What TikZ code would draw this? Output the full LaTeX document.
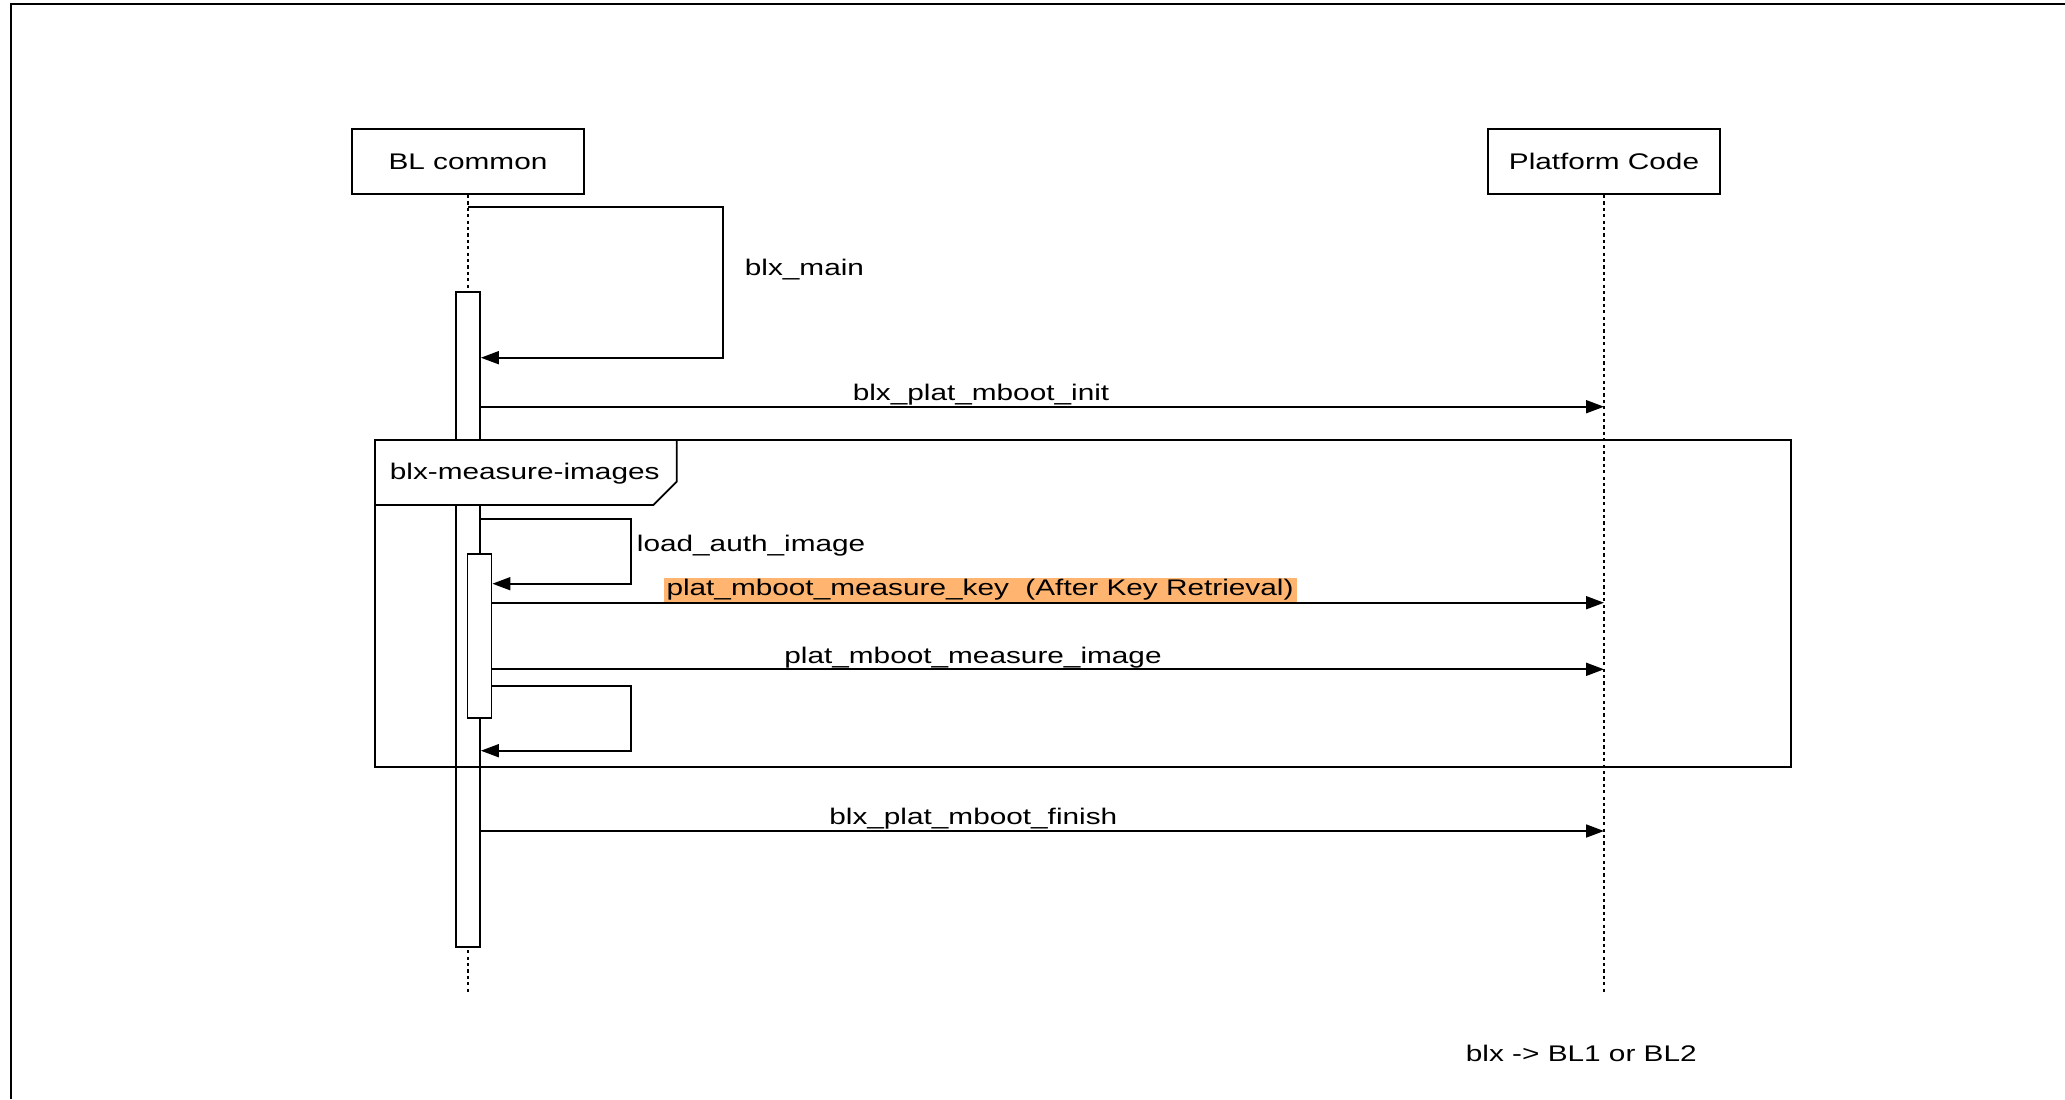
\documentclass[tikz,border=0pt]{standalone}
\usepackage{fontspec}
\setmainfont{Liberation Sans}[FakeStretch=1.317]
\usetikzlibrary{arrows.meta}
\definecolor{keyhl}{HTML}{FFB570}

\begin{document}
\begin{tikzpicture}[
  x=0.5pt, y=-0.5pt,
  font=\fontsize{11.3}{13.6}\selectfont,
  line width=0.9pt,
  actor/.style={draw, fill=white, minimum width=116pt, minimum height=32.5pt, inner sep=0pt},
  bar/.style={draw, fill=white, minimum width=12pt, inner sep=0pt},
  lifeline/.style={line width=1.1pt, dash pattern=on 1.6pt off 1.6pt},
  msg/.style={-{Triangle[length=9pt,width=6.5pt]}},
  lbl/.style={inner sep=0pt},
]
  \useasboundingbox (0,0) rectangle (2065,1099);
  \draw[line width=1.3pt] (11,1099) |- (2065,4);

  \node[actor] (bl) at (468,161.5) {BL common};
  \node[actor] (plat) at (1604,161.5) {Platform Code};
  \coordinate (blend) at (468,993);
  \coordinate (platend) at (1604,994);
  \draw[lifeline] (bl) -- (blend);
  \draw[lifeline] (plat) -- (platend);

  % activation of BL common
  \node[bar, minimum height=327.5pt] (act) at (468,619.5) {};

  % blx_main
  \draw[msg] (bl.south |- 0,206.7) -| (722.7,357.7) -- (act.east |- 0,357.7);
  \node[lbl, anchor=west] (mainlbl) at (744,270) {blx\_main};

  \draw[msg] (act.east |- 0,406.7) -- (platend |- 0,406.7);
  \node[lbl] (initlbl) at (981,394.5) {blx\_plat\_mboot\_init};

  % loop frame
  \draw (375,440) rectangle (1790.7,766.7);
  \draw[fill=white] (375,440) |- (653.3,505) -- (676.7,481.7) -- (676.7,440) -- cycle;
  \node[lbl, anchor=west] (looplbl) at (389,474) {blx-measure-images};

  \node[bar, minimum height=82pt] (inact) at (479.5,636.3) {};

  \draw[msg] (act.east |- 0,518.7) -| (630.7,583.7) -- (inact.east |- 0,583.7);
  \node[lbl, anchor=west] (authlbl) at (636,545.5) {load\_auth\_image};

  \draw[msg] (inact.east |- 0,602.7) -- (platend |- 0,602.7);
  \node[lbl, fill=keyhl, minimum height=12pt, inner xsep=1.5pt] (keylbl) at (980,589.5)
    {plat\_mboot\_measure\_key\ \ (After Key Retrieval)};

  \draw[msg] (inact.east |- 0,669.3) -- (platend |- 0,669.3);
  \node[lbl] (imglbl) at (973,657.5) {plat\_mboot\_measure\_image};

  \draw[msg] (inact.east |- 0,685.7) -| (630.7,750.7) -- (act.east |- 0,750.7);

  \draw[msg] (act.east |- 0,831) -- (platend |- 0,831);
  \node[lbl] (finlbl) at (973.3,818.5) {blx\_plat\_mboot\_finish};

  \node[lbl, anchor=west] (note) at (1465,1053) {blx -> BL1 or BL2};
\end{tikzpicture}
\end{document}
